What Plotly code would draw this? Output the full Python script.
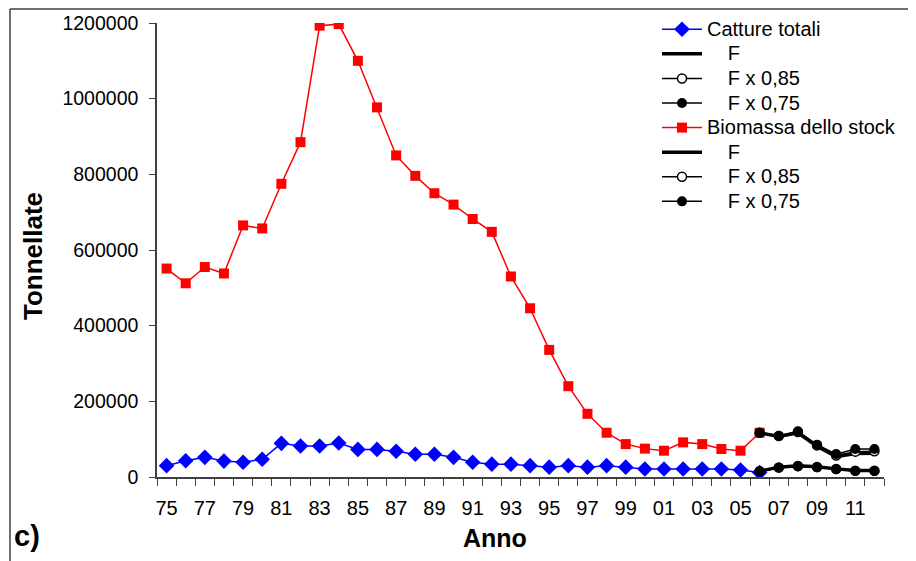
import plotly.graph_objects as go

# ---- data ----
years = ["75","76","77","78","79","80","81","82","83","84","85","86","87","88","89",
         "90","91","92","93","94","95","96","97","98","99","00","01","02","03","04",
         "05","06","07","08","09","10","11","12"]
hist_years = years[:32]          # 75 .. 06
proj_years = years[31:]          # 06 .. 12

catture = [30000, 43000, 52000, 42000, 39000, 47000, 89000, 82000, 82000, 90000,
           73000, 73000, 68000, 60000, 60000, 52000, 39000, 34000, 34000, 30000,
           26000, 30000, 26000, 30000, 26000, 21000, 21000, 21000, 21000, 21000,
           18500, 12000]
biomassa = [551000, 512000, 555000, 538000, 665000, 657000, 775000, 885000, 1193000, 1197000,
            1100000, 977000, 850000, 796000, 750000, 720000, 682000, 648000, 530000, 446000,
            336000, 240000, 167000, 117000, 87000, 75000, 69500, 91500, 87000, 74000,
            69500, 117000]

catt_F    = [15000, 26000, 30000, 27000, 21500, 17000, 17000]
catt_F085 = [15000, 25000, 29000, 26500, 21000, 16500, 16500]
catt_F075 = [15000, 24500, 28000, 25500, 20500, 16000, 16000]

bio_F     = [117000, 107000, 117000, 81000, 54000, 62000, 63000]
bio_F085  = [117000, 108500, 119000, 83500, 57000, 67000, 68000]
bio_F075  = [117000, 109000, 121000, 85500, 60500, 74000, 74000]

legend_names = ["Catture totali", "F", "F x 0,85", "F x 0,75",
                "Biomassa dello stock", "F", "F x 0,85", "F x 0,75"]

tick_text = [y if i % 2 == 0 else "" for i, y in enumerate(years)]
y_ticks = [0, 200000, 400000, 600000, 800000, 1000000, 1200000]

FONT = "Arial, 'Liberation Sans', sans-serif"
sp = "\u00a0\u00a0\u00a0\u2009"

def lname(i):
    n = legend_names[i]
    if n.startswith("F"):
        n = sp + n
    return "<span style='font-size:20px'>" + n + "</span>"

fig = go.Figure()

fig.add_trace(go.Scatter(x=hist_years, y=catture, name=lname(0), mode="lines+markers",
                         line=dict(color="#0000ff", width=1.5),
                         marker=dict(symbol="diamond", size=12, color="#0000ff")))
fig.add_trace(go.Scatter(x=proj_years, y=catt_F, name=lname(1), mode="lines",
                         line=dict(color="black", width=3.5)))
fig.add_trace(go.Scatter(x=proj_years, y=catt_F085, name=lname(2), mode="lines+markers",
                         line=dict(color="black", width=1.5),
                         marker=dict(symbol="circle", size=9, color="white",
                                     line=dict(color="black", width=1.5))))
fig.add_trace(go.Scatter(x=proj_years, y=catt_F075, name=lname(3), mode="lines+markers",
                         line=dict(color="black", width=1.5),
                         marker=dict(symbol="circle", size=10, color="black")))

fig.add_trace(go.Scatter(x=hist_years, y=biomassa, name=lname(4), mode="lines+markers",
                         line=dict(color="#ff0000", width=1.5),
                         marker=dict(symbol="square", size=10, color="#ff0000")))
fig.add_trace(go.Scatter(x=proj_years, y=bio_F, name=lname(5), mode="lines",
                         line=dict(color="black", width=3.5)))
fig.add_trace(go.Scatter(x=proj_years, y=bio_F085, name=lname(6), mode="lines+markers",
                         line=dict(color="black", width=1.5),
                         marker=dict(symbol="circle", size=9, color="white",
                                     line=dict(color="black", width=1.5))))
fig.add_trace(go.Scatter(x=proj_years, y=bio_F075, name=lname(7), mode="lines+markers",
                         line=dict(color="black", width=1.5),
                         marker=dict(symbol="circle", size=10, color="black")))

OFF = 8                      # page body margin of the exported html
W, H = 916 - OFF, 561 - OFF
# plot area in reference coordinates: x 157..884, y 23..477
L = 157 - OFF
R = W - (884 - OFF)
T = 23 - OFF
B = H - (477 - OFF)
pw, ph = W - L - R, H - T - B

def px(xr):
    return (xr - OFF - L) / pw

def py(yr):
    return (H - B - (yr - OFF)) / ph

fig.update_layout(
    width=W, height=H,
    margin=dict(l=L, r=R, t=T, b=B, autoexpand=False),
    paper_bgcolor="white", plot_bgcolor="white",
    font=dict(family=FONT, size=20, color="black"),
    showlegend=True,
    legend=dict(x=px(657), y=py(12), xanchor="left", yanchor="top",
                bgcolor="rgba(0,0,0,0)", font=dict(size=16.6, family=FONT),
                itemwidth=40, tracegroupgap=0),
    xaxis=dict(type="category", categoryorder="array", categoryarray=years,
               range=[-0.5, len(years) - 0.5],
               tickmode="array", tickvals=years, ticktext=tick_text,
               tickson="boundaries", ticks="outside", ticklen=7, tickwidth=1,
               tickcolor="#404040",
               showline=True, linecolor="#404040", linewidth=1.5,
               showgrid=False, zeroline=False,
               tickfont=dict(size=20, family=FONT), tickangle=0,
               ticklabelstandoff=12),
    yaxis=dict(range=[0, 1200000], tickmode="array", tickvals=y_ticks,
               tickformat="d", ticks="outside", ticklen=6, tickwidth=1,
               tickcolor="#404040",
               showline=True, linecolor="#404040", linewidth=1.5,
               showgrid=False, zeroline=False,
               tickfont=dict(size=19.5, family=FONT), ticklabelstandoff=7),
    annotations=[
        dict(text="<b>Tonnellate</b>", x=px(33), y=py(256), xref="paper", yref="paper",
             textangle=-90, showarrow=False, font=dict(size=26, family=FONT),
             xanchor="center", yanchor="middle"),
        dict(text="<b>Anno</b>", x=px(495), y=py(538), xref="paper", yref="paper",
             showarrow=False, font=dict(size=25, family=FONT),
             xanchor="center", yanchor="middle"),
        dict(text="<b>c)</b>", x=px(12), y=py(536), xref="paper", yref="paper",
             showarrow=False, font=dict(size=29, family=FONT),
             xanchor="left", yanchor="middle"),
    ],
    shapes=[
        dict(type="line", xref="paper", yref="paper", x0=px(10), x1=px(10),
             y0=py(9), y1=py(570), line=dict(color="#404040", width=1.5)),
        dict(type="line", xref="paper", yref="paper", x0=px(10), x1=px(930),
             y0=py(9), y1=py(9), line=dict(color="#404040", width=1.5)),
    ],
)

fig.write_html("out.html")
